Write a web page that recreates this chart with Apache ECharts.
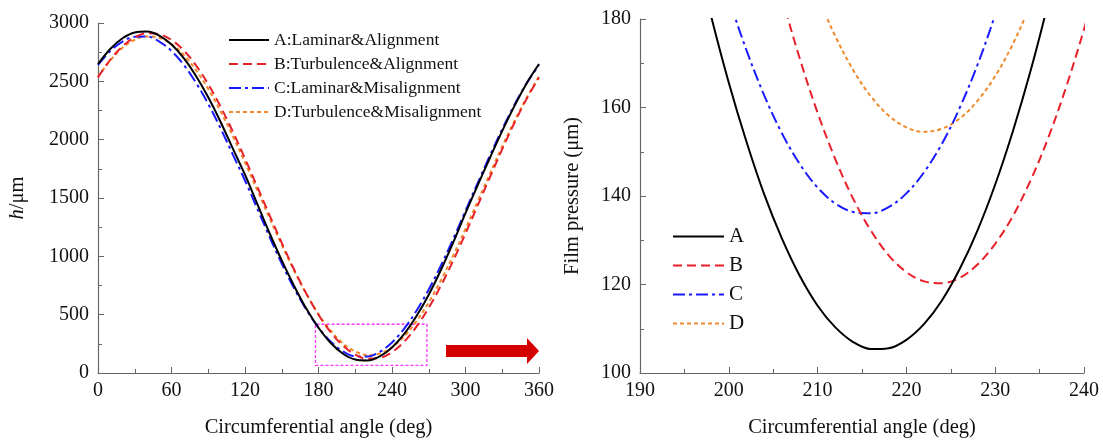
<!DOCTYPE html>
<html>
<head>
<meta charset="utf-8">
<script src="https://cdn.jsdelivr.net/npm/echarts@6/dist/echarts.min.js"></script>
<style>html,body{margin:0;padding:0;background:#fff;}#c{width:1103px;height:443px;}</style>
</head>
<body>
<div id="c"></div>
<script>
// ---- Data ----
var angleFull = [0,10,20,30,40,50,60,70,80,90,100,110,120,130,140,150,160,170,180,190,200,210,220,230,240,250,260,270,280,290,300,310,320,330,340,350,360];
var hA = [2648,2777,2869,2919,2927,2892,2815,2699,2546,2363,2154,1925,1700,1450,1200,965,748,552,388,257,165,115,107,142,219,335,488,671,885,1120,1370,1610,1845,2075,2290,2484,2648];
var hB = [2534,2685,2800,2877,2912,2904,2855,2765,2637,2475,2284,2070,1838,1597,1354,1115,889,682,500,349,234,157,122,129,179,269,397,559,750,964,1196,1437,1680,1919,2145,2352,2534];
var hC = [2640,2760,2840,2882,2884,2841,2760,2641,2488,2306,2099,1874,1650,1410,1168,938,728,544,389,268,185,142,141,181,262,381,534,716,923,1150,1390,1630,1865,2090,2300,2485,2640];
var hD = [2540,2678,2787,2856,2885,2873,2819,2726,2596,2434,2244,2032,1804,1568,1330,1098,879,679,505,362,253,184,155,167,221,314,444,606,796,1008,1236,1472,1710,1942,2161,2361,2540];

var zoomAngA = [196,198,200,202,204,206,208,210,212,214,216,218,220,222,224,226,228,230,232,234,236,238];
var zoomA    = [197.4,180.7,165.6,152.2,140.3,130.3,121.9,115.2,110.3,107.0,105.4,105.6,107.5,111.1,116.4,123.5,132.2,142.6,154.7,168.4,183.9,200.9];
var zoomAngB = [204,206,208,210,212,214,216,218,220,222,224,226,228,230,232,234,236,238,240,242];
var zoomB    = [200.4,184.9,171.0,158.8,148.3,139.4,132.2,126.6,122.8,120.7,120.3,121.5,124.5,129.2,135.5,143.6,153.3,164.7,177.7,192.4];
var zoomAngC = [198,200,202,204,206,208,210,212,214,216,218,220,222,224,226,228,230,232];
var zoomC    = [198.2,184.7,172.9,162.7,154.1,147.2,141.9,138.3,136.4,136.1,137.5,140.6,145.4,151.8,159.9,169.6,181.0,194.0];
var zoomAngD = [208,210,212,214,216,218,220,222,224,226,228,230,232,234,236];
var zoomD    = [196.2,185.3,176.1,168.5,162.5,158.2,155.5,154.5,155.2,157.5,161.5,167.1,174.4,183.4,193.9];

var namesFull = ['A:Laminar&Alignment','B:Turbulence&Alignment','C:Laminar&Misalignment','D:Turbulence&Misalignment'];
var namesShort = ['A','B','C','D'];
var boxX = [177.5, 268.5];
var boxY = [65, 418];

function pairs(xs, ys){ return xs.map(function(x,i){ return [x, ys[i]]; }); }

var colors = ['#000000','#e8202a','#1a1aff','#f08a2c'];
var dashes = ['solid',[9,5],[12,4,3,4],[4,3]];
var FONT = 'Liberation Serif';

var chart = echarts.init(document.getElementById('c'));

function xAxisCfg(idx,min,max,interval){
  return {gridIndex:idx,type:'value',min:min,max:max,interval:interval,
    name:'Circumferential angle (deg)',nameLocation:'middle',nameGap:44,
    nameTextStyle:{fontFamily:FONT,fontSize:20.5,color:'#111'},
    axisLine:{show:true,lineStyle:{color:'#666',width:1.2}},
    axisTick:{show:true,inside:true,length:6,lineStyle:{color:'#666'}},
    minorTick:{show:true,splitNumber:2,length:4,lineStyle:{color:'#666'}},
    splitLine:{show:false},
    axisLabel:{fontFamily:FONT,fontSize:20,color:'#111',margin:8,formatter:function(v){return String(v);}}};
}
function yAxisCfg(idx,min,max,interval,name,gap){
  return {gridIndex:idx,type:'value',min:min,max:max,interval:interval,
    name:name,nameLocation:'middle',nameGap:gap,
    nameTextStyle:{fontFamily:FONT,fontSize:20.5,color:'#111',rich:{i:{fontFamily:FONT,fontSize:20.5,fontStyle:'italic',color:'#111'},n:{fontFamily:FONT,fontSize:20.5,color:'#111'}}},
    axisLine:{show:true,lineStyle:{color:'#666',width:1.2}},
    axisTick:{show:true,inside:true,length:6,lineStyle:{color:'#666'}},
    minorTick:{show:true,splitNumber:2,length:4,lineStyle:{color:'#666'}},
    splitLine:{show:false},
    axisLabel:{fontFamily:FONT,fontSize:20,color:'#111',margin:9,formatter:function(v){return String(v);}}};
}

var fullData = [hA,hB,hC,hD];
var zoomData = [pairs(zoomAngA,zoomA),pairs(zoomAngB,zoomB),pairs(zoomAngC,zoomC),pairs(zoomAngD,zoomD)];

var series = [];
for (var i=0;i<4;i++){
  var s = {name:namesFull[i],type:'line',xAxisIndex:0,yAxisIndex:0,data:pairs(angleFull,fullData[i]),
    smooth:0.35,symbol:'none',showSymbol:false,z:10-i,
    lineStyle:{color:colors[i],width:2,type:dashes[i]},itemStyle:{color:colors[i]}};
  if (i===0){
    s.markArea = {silent:true,itemStyle:{color:'rgba(0,0,0,0)',borderColor:'#ff33ff',borderWidth:1.3,borderType:[3,2]},
      data:[[{coord:[boxX[0],boxY[0]]},{coord:[boxX[1],boxY[1]]}]]};
  }
  series.push(s);
}
for (var j=0;j<4;j++){
  series.push({name:namesShort[j],type:'line',xAxisIndex:1,yAxisIndex:1,data:zoomData[j],
    smooth:0.35,symbol:'none',showSymbol:false,clip:true,z:10-j,
    lineStyle:{color:colors[j],width:2,type:dashes[j]},itemStyle:{color:colors[j]}});
}

chart.setOption({
  animation:false,
  backgroundColor:'#fff',
  grid:[{left:98,right:564,top:23,bottom:66,containLabel:false},
        {left:640,right:19,top:19,bottom:66,containLabel:false}],
  xAxis:[xAxisCfg(0,0,360,60), xAxisCfg(1,190,240,10)],
  yAxis:[yAxisCfg(0,0,3000,500,'{i|h}{n|/μm}',70), yAxisCfg(1,100,180,20,'Film pressure (μm)',57)],
  legend:[
    {data:namesFull,orient:'vertical',left:223,top:26,itemWidth:40,itemHeight:14,itemGap:6,
     itemStyle:{opacity:0},
     textStyle:{fontFamily:FONT,fontSize:17.5,color:'#111'}},
    {data:namesShort,orient:'vertical',left:667,top:221,itemWidth:51,itemHeight:14,itemGap:8,
     itemStyle:{opacity:0},
     textStyle:{fontFamily:FONT,fontSize:21,color:'#111'}}
  ],
  graphic:[{type:'polygon',silent:true,shape:{points:[[446,345],[527,345],[527,338],[539,351],[527,364],[527,357],[446,357]]},
    style:{fill:'#d40000'}}],
  series:series
});
</script>
</body>
</html>
